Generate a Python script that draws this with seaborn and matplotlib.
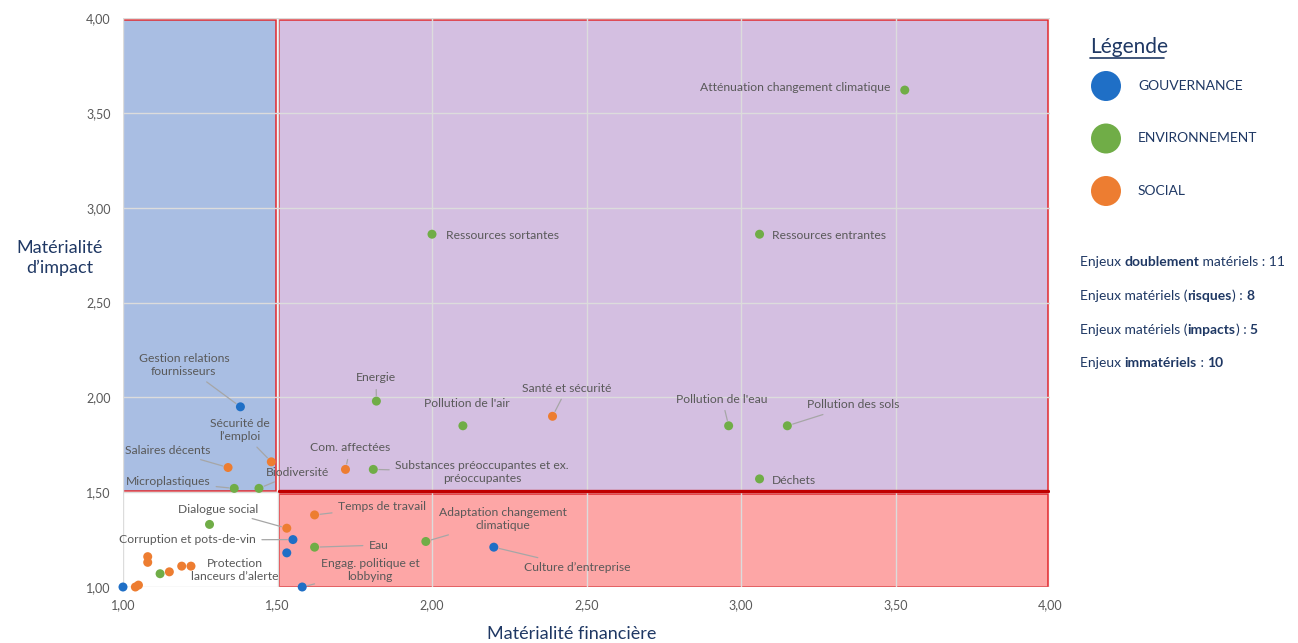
import matplotlib
matplotlib.use("Agg")
import matplotlib.pyplot as plt
from matplotlib.patches import Rectangle, Ellipse
from matplotlib.text import Annotation
from matplotlib.lines import Line2D
import seaborn as sns
import pandas as pd

# ---- data -------------------------------------------------------------
categories = ["GOUVERNANCE", "ENVIRONNEMENT", "SOCIAL"]
palette = {"GOUVERNANCE": "#1f6fc6", "ENVIRONNEMENT": "#70ad47", "SOCIAL": "#ed7d31"}

gov_names = ["Gestion relations\nfournisseurs", "Corruption et pots-de-vin",
             "Protection\nlanceurs d’alerte", "Engag. politique et\nlobbying",
             "Culture d’entreprise", ""]
gov_fin = [1.38, 1.55, 1.53, 1.58, 2.20, 1.00]
gov_imp = [1.95, 1.25, 1.18, 1.00, 1.21, 1.00]

env_names = ["Atténuation changement climatique", "Ressources sortantes",
             "Ressources entrantes", "Energie", "Pollution de l'air",
             "Pollution de l'eau", "Pollution des sols",
             "Substances préoccupantes et ex.\npréoccupantes", "Microplastiques",
             "Biodiversité", "Adaptation changement\nclimatique", "Eau", "Déchets",
             "", ""]
env_fin = [3.53, 2.00, 3.06, 1.82, 2.10, 2.96, 3.15, 1.81, 1.36, 1.44, 1.98, 1.62, 3.06, 1.28, 1.12]
env_imp = [3.62, 2.86, 2.86, 1.98, 1.85, 1.85, 1.85, 1.62, 1.52, 1.52, 1.24, 1.21, 1.57, 1.33, 1.07]

soc_names = ["Santé et sécurité", "Sécurité de\nl’emploi", "Salaires décents",
             "Com. affectées", "Temps de travail", "Dialogue social",
             "", "", "", "", "", "", ""]
soc_fin = [2.39, 1.48, 1.34, 1.72, 1.62, 1.53, 1.08, 1.08, 1.15, 1.19, 1.22, 1.04, 1.05]
soc_imp = [1.90, 1.66, 1.63, 1.62, 1.38, 1.31, 1.16, 1.13, 1.08, 1.11, 1.11, 1.00, 1.01]

summary_lines = [
    [("Enjeux ", False), ("doublement", True), (" matériels : 11", False)],
    [("Enjeux matériels (", False), ("risques", True), (") : ", False), ("8", True)],
    [("Enjeux matériels (", False), ("impacts", True), (") : ", False), ("5", True)],
    [("Enjeux ", False), ("immatériels", True), (" : ", False), ("10", True)],
]

# label placement: name -> (x, y, ha, leader)
label_pos = {
    "Atténuation changement climatique": (3.482, 3.636, "right", False),
    "Ressources sortantes": (2.045, 2.851, "left", False),
    "Ressources entrantes": (3.100, 2.851, "left", False),
    "Energie": (1.819, 2.102, "center", True),
    "Pollution de l'air": (2.113, 1.970, "center", False),
    "Santé et sécurité": (2.437, 2.049, "center", True),
    "Pollution de l'eau": (2.939, 1.991, "center", True),
    "Pollution des sols": (3.214, 1.960, "left", True),
    "Gestion relations\nfournisseurs": (1.197, 2.170, "center", True),
    "Sécurité de\nl’emploi": (1.379, 1.828, "center", True),
    "Salaires décents": (1.282, 1.722, "right", True),
    "Com. affectées": (1.735, 1.733, "center", True),
    "Substances préoccupantes et ex.\npréoccupantes": (2.162, 1.606, "center", True),
    "Microplastiques": (1.282, 1.554, "right", True),
    "Biodiversité": (1.566, 1.606, "center", True),
    "Déchets": (3.100, 1.564, "left", False),
    "Temps de travail": (1.696, 1.422, "left", True),
    "Dialogue social": (1.437, 1.411, "right", True),
    "Adaptation changement\nclimatique": (2.230, 1.359, "center", True),
    "Corruption et pots-de-vin": (1.430, 1.248, "right", True),
    "Eau": (1.828, 1.221, "center", True),
    "Protection\nlanceurs d’alerte": (1.362, 1.090, "center", True),
    "Engag. politique et\nlobbying": (1.799, 1.090, "center", True),
    "Culture d’entreprise": (2.298, 1.105, "left", True),
}

df = pd.DataFrame({
    "name": gov_names + env_names + soc_names,
    "fin": gov_fin + env_fin + soc_fin,
    "imp": gov_imp + env_imp + soc_imp,
    "cat": ["GOUVERNANCE"] * len(gov_fin) + ["ENVIRONNEMENT"] * len(env_fin) + ["SOCIAL"] * len(soc_fin),
})

# ---- style --------------------------------------------------------------
sns.set_theme(style="white")
plt.rcParams["font.family"] = ["Lato", "DejaVu Sans"]
navy = "#1f3864"
grey_txt = "#595959"

W, H = 1298, 643
fig = plt.figure(figsize=(W / 100, H / 100), dpi=100)
ax = fig.add_axes([123 / W, 1 - 587 / H, (1050 - 123) / W, (587 - 18) / H])

# materiality zones (slightly inset so the grid shows between them)
dx, dy = 0.005, 0.008
zones = [
    (1.0, 1.5 + dy, 0.5 - dx, 2.5 - 2 * dy, "#a9bee3"),
    (1.5 + dx, 1.5 + dy, 2.5 - 2 * dx, 2.5 - 2 * dy, "#d4bfe1"),
    (1.5 + dx, 1.0, 2.5 - 2 * dx, 0.5 - dy, "#fda6a6"),
]
for x0, y0, w, h, c in zones:
    ax.add_patch(Rectangle((x0, y0), w, h, facecolor=c, edgecolor="#e0282d",
                           lw=1.1, zorder=0.2))
ax.plot([1.5 + dx, 4.0 - dx], [1.5 + dy, 1.5 + dy], color="#c00000", lw=2.4, zorder=0.8)

# grid drawn above the zone fills
ax.set_axisbelow(True)
ax.grid(True, color="#dcdcdc", lw=1.0)
for s in ax.spines.values():
    s.set_visible(False)

sns.scatterplot(data=df, x="fin", y="imp", hue="cat", hue_order=categories,
                palette=palette, s=42, edgecolor="none", legend=False,
                ax=ax, zorder=3, clip_on=False)

ax.set_xlim(1.0, 4.0)
ax.set_ylim(1.0, 4.0)
ticks = [1.0, 1.5, 2.0, 2.5, 3.0, 3.5, 4.0]
tick_labels = ["1,00", "1,50", "2,00", "2,50", "3,00", "3,50", "4,00"]
ax.set_xticks(ticks, tick_labels)
ax.set_yticks(ticks, tick_labels)
ax.tick_params(axis="both", labelsize=9, colors=grey_txt, length=0, pad=9)
ax.set_xlabel("")
ax.set_ylabel("")

# point labels (leaders sit under the markers)
for _, r in df.iterrows():
    if not r["name"]:
        continue
    tx, ty, ha, leader = label_pos[r["name"]]
    ax.annotate(r["name"], xy=(r["fin"], r["imp"]), xytext=(tx, ty),
                ha=ha, va="center", fontsize=8.7, color=grey_txt,
                multialignment="center", zorder=2,
                arrowprops=dict(arrowstyle="-", color="#a6a6a6", lw=0.9,
                                shrinkA=2, shrinkB=4) if leader else None)

# axis titles
fig.text(572 / W, 1 - 634 / H, "Matérialité financière", ha="center", va="center",
         fontsize=13, color=navy)
fig.text(60 / W, 1 - 258 / H, "Matérialité\nd’impact", ha="center", va="center",
         fontsize=13, color=navy, multialignment="center", linespacing=1.25)

# legend panel
fig.text(1090 / W, 1 - 47 / H, "Légende", ha="left", va="center",
         fontsize=15, color=navy)
fig.add_artist(Line2D([1090 / W, 1164 / W], [1 - 58 / H, 1 - 58 / H],
                      transform=fig.transFigure, color=navy, lw=1.2))
for i, cat in enumerate(categories):
    cy = 86 + i * 52.5
    fig.add_artist(Ellipse((1106 / W, 1 - cy / H), 30 / W, 30 / H,
                           transform=fig.transFigure, facecolor=palette[cat],
                           edgecolor="none"))
    fig.text(1138 / W, 1 - cy / H, cat, ha="left", va="center",
             fontsize=10, color=navy)

for i, parts in enumerate(summary_lines):
    y = 1 - (262 + i * 33.7) / H
    prev = None
    for txt, bold in parts:
        if prev is None:
            prev = fig.text(1080 / W, y, txt, ha="left", va="center",
                            fontsize=10, color=navy,
                            fontweight="bold" if bold else "normal")
        else:
            prev = fig.add_artist(Annotation(txt, xy=(1, 0), xycoords=prev,
                                             ha="left", va="bottom", fontsize=10,
                                             color=navy,
                                             fontweight="bold" if bold else "normal"))

fig.savefig("out.png", dpi=100)
